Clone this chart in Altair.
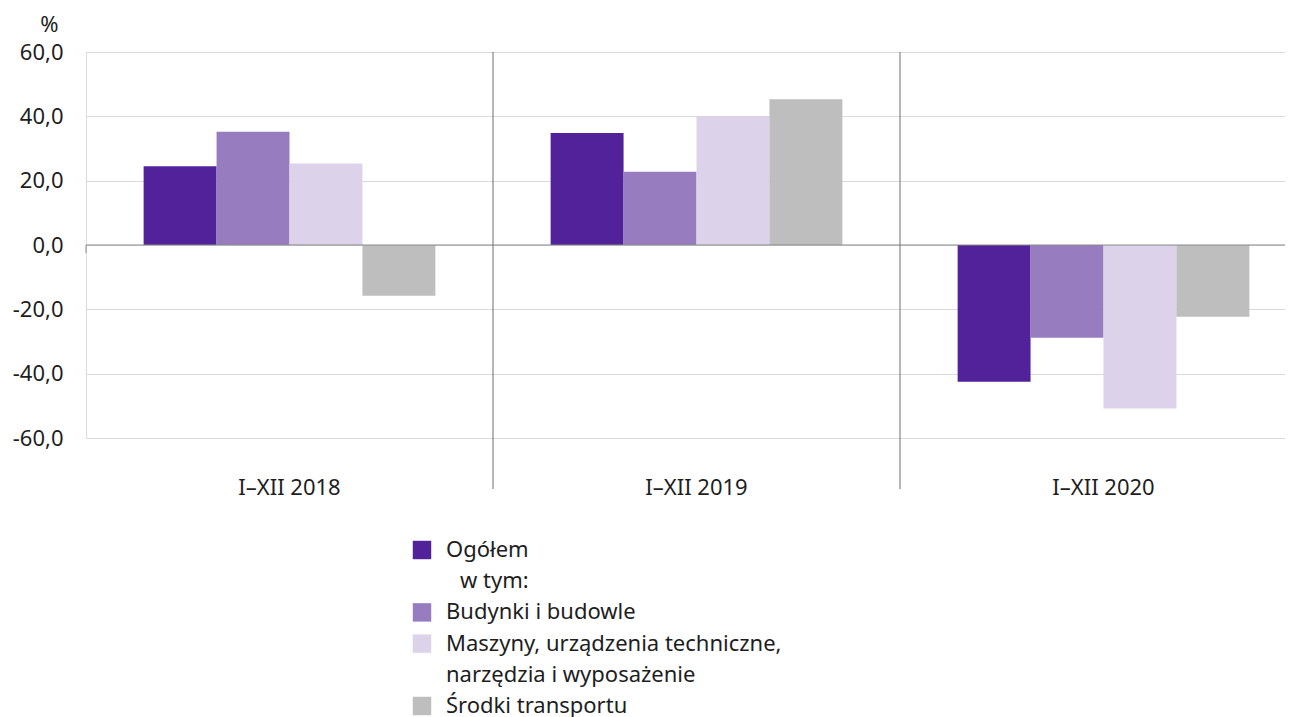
import altair as alt
import pandas as pd

periods = ["I–XII 2018", "I–XII 2019", "I–XII 2020"]
series = [
    "Ogółem",
    "Budynki i budowle",
    "Maszyny, urządzenia techniczne, narzędzia i wyposażenie",
    "Środki transportu",
]
colors = ["#51229a", "#977cc0", "#dcd2ea", "#bebebe"]

v_ogolem = [24.5, 34.8, -42.5]
v_budynki = [35.2, 22.8, -28.8]
v_maszyny = [25.3, 40.0, -50.8]
v_srodki = [-15.8, 45.3, -22.3]

y_ticks = [-60, -40, -20, 0, 20, 40, 60]

legend_text = [
    "Ogółem",
    "w tym:",
    "Budynki i budowle",
    "Maszyny, urządzenia techniczne,",
    "narzędzia i wyposażenie",
    "Środki transportu",
]
legend_series = [series[0], None, series[1], series[2], None, series[3]]
legend_indent = [False, True, False, False, False, False]

FONT = "Noto Sans"
FS = 22
TXT = "#1e1e1e"
W = 1199          # visible plot width (plot is cut at the right edge of the page)
XRANGE = 1221     # full extent of the three period bands
H = 386

rows = []
for s, vals in zip(series, [v_ogolem, v_budynki, v_maszyny, v_srodki]):
    for p, v in zip(periods, vals):
        rows.append({"period": p, "series": s, "value": v})
df = pd.DataFrame(rows)

xscale = alt.Scale(domain=periods, paddingInner=0, paddingOuter=0, range=[0, XRANGE])
cscale = alt.Scale(domain=series, range=colors)

bars = alt.Chart(df).mark_bar().encode(
    x=alt.X(
        "period:N",
        scale=xscale,
        axis=alt.Axis(
            title=None,
            labelAngle=0,
            ticks=False,
            tickSize=0,
            domain=False,
            grid=False,
            labelPadding=56,
            labelFontSize=FS,
            labelColor=TXT,
            labelFont=FONT,
            labelBaseline="alphabetic",
        ),
    ),
    xOffset=alt.XOffset(
        "series:N", sort=series, scale=alt.Scale(domain=series, paddingInner=0, paddingOuter=0.79)
    ),
    y=alt.Y(
        "value:Q",
        scale=alt.Scale(domain=[-60, 60], nice=False, zero=False),
        axis=alt.Axis(
            values=y_ticks,
            labelExpr="datum.value + ',0'",
            title="%",
            titleAngle=0,
            titleAlign="center",
            titleBaseline="middle",
            titleX=-37,
            titleY=-28,
            titleFontSize=FS,
            titleFontWeight="normal",
            titleColor=TXT,
            titleFont=FONT,
            ticks=False,
            tickSize=0,
            domain=False,
            labelPadding=23,
            labelFontSize=FS,
            labelColor=TXT,
            labelFont=FONT,
            gridColor="#dadada",
            gridWidth=1,
        ),
    ),
    color=alt.Color("series:N", scale=cscale, legend=None),
)

zero = alt.Chart(pd.DataFrame({"v": [0]})).mark_rule(color="#8a8a8a", strokeWidth=1.2).encode(
    y="v:Q"
)

seps = alt.Chart(pd.DataFrame({"period": periods[1:]})).mark_rule(
    color="#6e6e6e", strokeWidth=1
).encode(
    x=alt.X("period:N", bandPosition=0, scale=xscale),
    y=alt.value(0),
    y2=alt.value(437),
)

left_tick = alt.Chart(pd.DataFrame({"period": periods[:1]})).mark_rule(
    color="#8a8a8a", strokeWidth=1
).encode(
    x=alt.X("period:N", bandPosition=0, scale=xscale),
    y=alt.datum(0),
    y2=alt.datum(-2.5),
)

plot = alt.layer(bars, zero, seps, left_tick)

# legend drawn below the plot, rows placed by an ordinal scale
leg_df = pd.DataFrame(
    {
        "row": list(range(len(legend_text))),
        "text": legend_text,
        "series": legend_series,
        "indent": legend_indent,
    }
)
yrow = alt.Y("row:O", axis=None, scale=alt.Scale(range=[498, 654], padding=0))

leg_sym = alt.Chart(leg_df).transform_filter("datum.series != null").mark_square(
    size=340, opacity=1
).encode(
    y=yrow,
    x=alt.value(336),
    color=alt.Color("series:N", scale=cscale, legend=None),
)
leg_txt = alt.Chart(leg_df).transform_filter("!datum.indent").mark_text(
    align="left", baseline="middle", fontSize=FS, font=FONT, color=TXT
).encode(y=yrow, x=alt.value(360), text="text:N")
leg_txt2 = alt.Chart(leg_df).transform_filter("datum.indent").mark_text(
    align="left", baseline="middle", fontSize=FS, font=FONT, color=TXT
).encode(y=yrow, x=alt.value(374), text="text:N")

legend = alt.layer(leg_sym, leg_txt, leg_txt2)

chart = (
    alt.layer(plot, legend)
    .resolve_scale(y="independent")
    .properties(
        width=W,
        height=H,
        autosize=alt.AutoSizeParams(type="none"),
        padding={"left": 78, "top": 44, "right": 0, "bottom": 279},
    )
    .configure_view(strokeWidth=0)
    .configure(font=FONT)
)

chart.save("out.html", embed_options={"renderer": "svg", "actions": False})
